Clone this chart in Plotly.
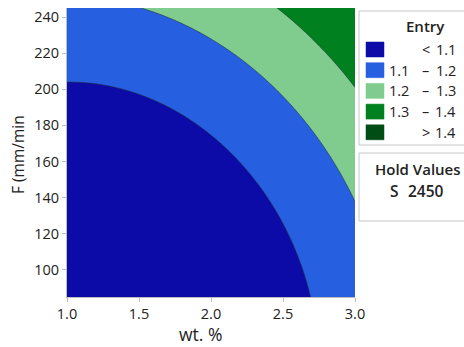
import numpy as np
import plotly.graph_objects as go

# Fitted response surface for Entry (S held at 2450), in coded units:
#   a = wt% - 2,  b = (F - 165) / 80
#   Entry = b0 + b1*a + b2*b + b11*a^2 + b22*b^2 + b12*a*b
coef_names = ["b0", "b1", "b2", "b11", "b22", "b12"]
coef_values = [1.08578, 0.09884, 0.11362, 0.05219, 0.04039, 0.00836]

wt_range = [1.0, 3.0]
f_range = [85.0, 245.0]

levels = [1.1, 1.2, 1.3, 1.4]
band_colors = ["#0D0BA8", "#2660E0", "#80CC8F", "#00801F", "#004D15"]
band_left = ["", "1.1", "1.2", "1.3", ""]
band_mid = ["<", "–", "–", "–", ">"]
band_right = ["1.1", "1.2", "1.3", "1.4", "1.4"]

x_ticks = [1.0, 1.5, 2.0, 2.5, 3.0]
y_ticks = [100, 120, 140, 160, 180, 200, 220, 240]

hold_name = "S"
hold_value = "2450"

c = dict(zip(coef_names, coef_values))
wt = np.linspace(wt_range[0], wt_range[1], 241)
F = np.linspace(f_range[0], f_range[1], 241)
WT, FF = np.meshgrid(wt, F)
a = WT - 2.0
b = (FF - 165.0) / 80.0
entry = (c["b0"] + c["b1"] * a + c["b2"] * b
         + c["b11"] * a * a + c["b22"] * b * b + c["b12"] * a * b)

step = levels[1] - levels[0]
n = len(band_colors)
colorscale = [[i / (n - 1), col] for i, col in enumerate(band_colors)]

fig = go.Figure(go.Contour(
    x=wt, y=F, z=entry,
    contours=dict(start=levels[0], end=levels[-1], size=step, coloring="fill"),
    colorscale=colorscale, showscale=False,
    line=dict(width=0.6, color="#1C2A3A"),
    hoverinfo="skip",
))

W, H = 464, 347
L, R, T, B = 67, 355, 8, 297

def px(x):
    return (x - L) / (R - L)

def py(y):
    return (B - y) / (B - T)

FONT = "Open Sans"
TXT = "#222222"
shapes = []
ann = []

# legend frame and hold-values frame
shapes.append(dict(type="rect", xref="paper", yref="paper",
                   x0=px(359), x1=px(472), y0=py(145), y1=py(11),
                   line=dict(color="#C6C6C6", width=1), fillcolor="white", layer="above"))
shapes.append(dict(type="rect", xref="paper", yref="paper",
                   x0=px(359), x1=px(472), y0=py(221), y1=py(153),
                   line=dict(color="#C6C6C6", width=1), fillcolor="white", layer="above"))

ann.append(dict(text="Entry", x=px(425), y=py(26), xref="paper", yref="paper",
                showarrow=False, xanchor="center", yanchor="middle",
                font=dict(family=FONT, size=15, color=TXT, weight=600)))

for i, col in enumerate(band_colors):
    yc = 49.5 + 20.7 * i
    shapes.append(dict(type="rect", xref="paper", yref="paper",
                       x0=px(366), x1=px(384), y0=py(yc + 7.5), y1=py(yc - 7.5),
                       line=dict(color=col, width=0.5), fillcolor=col, layer="above"))
    if band_left[i]:
        ann.append(dict(text=band_left[i], x=px(411), y=py(yc), xref="paper", yref="paper",
                        showarrow=False, xanchor="right", yanchor="middle",
                        font=dict(family=FONT, size=14.5, color=TXT)))
    ann.append(dict(text=band_mid[i], x=px(425.5), y=py(yc), xref="paper", yref="paper",
                    showarrow=False, xanchor="center", yanchor="middle",
                    font=dict(family=FONT, size=14.5, color=TXT)))
    ann.append(dict(text=band_right[i], x=px(458), y=py(yc), xref="paper", yref="paper",
                    showarrow=False, xanchor="right", yanchor="middle",
                    font=dict(family=FONT, size=14.5, color=TXT)))

ann.append(dict(text="Hold Values", x=px(418), y=py(169), xref="paper", yref="paper",
                showarrow=False, xanchor="center", yanchor="middle",
                font=dict(family=FONT, size=15, color=TXT, weight=600)))
ann.append(dict(text=hold_name, x=px(388), y=py(191), xref="paper", yref="paper",
                showarrow=False, xanchor="left", yanchor="middle",
                font=dict(family=FONT, size=15.5, color=TXT, weight=600)))
ann.append(dict(text=hold_value, x=px(446), y=py(191), xref="paper", yref="paper",
                showarrow=False, xanchor="right", yanchor="middle",
                font=dict(family=FONT, size=15.5, color=TXT, weight=600)))

# axis titles
ann.append(dict(text="wt. %", x=px(200), y=py(334.5), xref="paper", yref="paper",
                showarrow=False, xanchor="center", yanchor="middle",
                font=dict(family=FONT, size=17.5, color=TXT)))
ann.append(dict(text="F (mm/min", x=px(18), y=py(155), xref="paper", yref="paper",
                showarrow=False, xanchor="center", yanchor="middle", textangle=-90,
                font=dict(family=FONT, size=15.5, color=TXT)))

fig.update_layout(
    width=W, height=H,
    margin=dict(l=L, r=W - R, t=T, b=H - B),
    paper_bgcolor="white", plot_bgcolor="white",
    shapes=shapes, annotations=ann, showlegend=False,
    font=dict(family=FONT, size=14, color=TXT),
)
fig.update_xaxes(range=wt_range, tickvals=x_ticks, tickformat=".1f",
                 ticks="outside", ticklen=4, tickcolor="#BDBDBD",
                 showline=True, linecolor="#BDBDBD", linewidth=1,
                 showgrid=False, zeroline=False,
                 tickfont=dict(family=FONT, size=14.5, color=TXT))
fig.update_yaxes(range=f_range, tickvals=y_ticks,
                 ticks="outside", ticklen=4, tickcolor="#BDBDBD",
                 showline=True, linecolor="#BDBDBD", linewidth=1,
                 showgrid=False, zeroline=False,
                 tickfont=dict(family=FONT, size=14.5, color=TXT))

fig.write_html("out.html")
